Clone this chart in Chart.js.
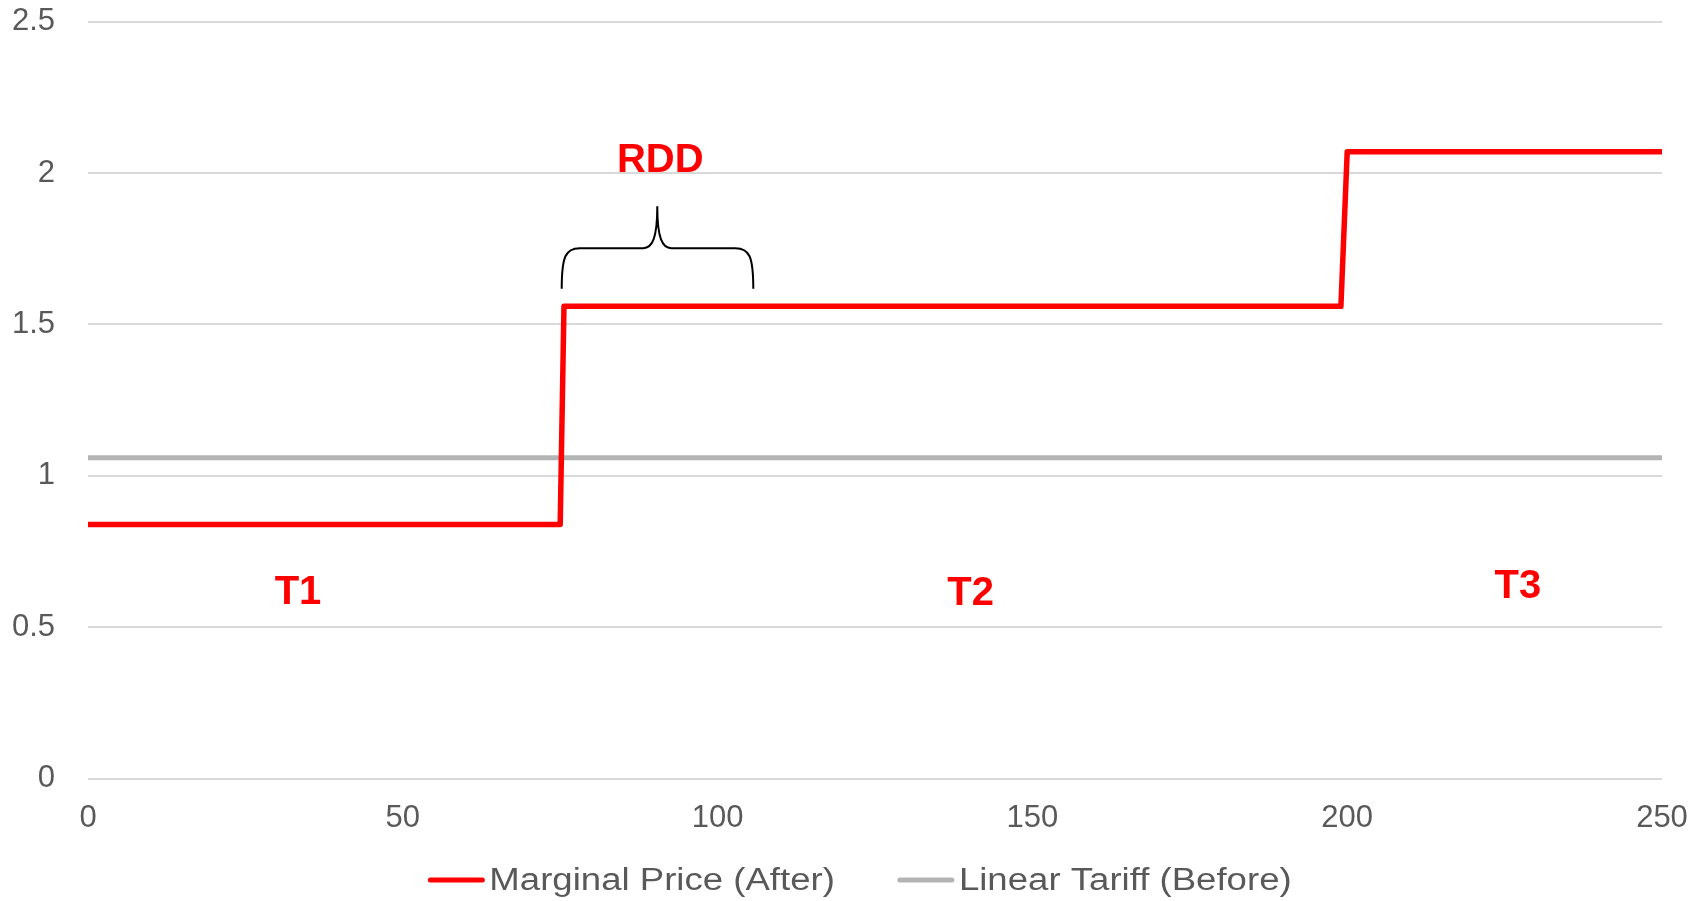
<!DOCTYPE html>
<html>
<head>
<meta charset="utf-8">
<script src="https://cdn.jsdelivr.net/npm/chart.js@4.4.1/dist/chart.umd.min.js"></script>
<style>
  html, body { margin: 0; padding: 0; background: #ffffff; }
  canvas { display: block; }
</style>
</head>
<body>
<canvas id="chart" width="1701" height="901"></canvas>
<script>
// Monthly usage (x) and price per unit (y)
const stepUsage = [0, 75, 75.6, 199, 200, 250];
const marginalPrice = [0.84, 0.84, 1.56, 1.56, 2.07, 2.07];
const flatUsage = [0, 250];
const linearTariff = [1.06, 1.06];
const xTicks = [0, 50, 100, 150, 200, 250];
const yTicks = [0, 0.5, 1, 1.5, 2, 2.5];
const seriesNames = ['Marginal Price (After)', 'Linear Tariff (Before)'];
const tierNames = ['T1', 'T2', 'T3'];
const bracketLabel = 'RDD';

// Annotation anchors in data units (text anchors are baselines)
const tierAnchors = [[33.35, 0.577], [140.2, 0.575], [227.1, 0.596]];
const bracketLabelAnchor = [90.9, 2.003];
const bracket = { x0: 75.24, x1: 105.67, xTip: 90.42, yEnd: 1.618, yBar: 1.752, yTip: 1.89 };

const FONT = '"Liberation Sans", Arial, Helvetica, sans-serif';
const RED = '#ff0000';
const GREY = '#b4b4b4';
const TEXT = '#595959';
const CLEAR = 'rgba(0,0,0,0)';

const toPoints = (xs, ys) => xs.map((x, i) => ({ x, y: ys[i] }));

const annotations = {
  id: 'annotations',
  afterDatasetsDraw(chart) {
    const { ctx, scales: { x, y } } = chart;
    ctx.save();

    // curly bracket over the start of the second tier
    const xl = x.getPixelForValue(bracket.x0);
    const xr = x.getPixelForValue(bracket.x1);
    const xm = x.getPixelForValue(bracket.xTip);
    const yb = y.getPixelForValue(bracket.yEnd);
    const yf = y.getPixelForValue(bracket.yBar);
    const yt = y.getPixelForValue(bracket.yTip);
    ctx.strokeStyle = '#000000';
    ctx.lineWidth = 2;
    ctx.lineCap = 'butt';
    ctx.beginPath();
    ctx.moveTo(xl, yb);
    ctx.bezierCurveTo(xl, yf + 8, xl + 4, yf, xl + 18, yf);
    ctx.lineTo(xm - 14, yf);
    ctx.bezierCurveTo(xm - 5, yf, xm, yf - 10, xm, yt);
    ctx.bezierCurveTo(xm, yf - 10, xm + 5, yf, xm + 14, yf);
    ctx.lineTo(xr - 18, yf);
    ctx.bezierCurveTo(xr - 4, yf, xr, yf + 8, xr, yb);
    ctx.stroke();

    // tier and bracket labels
    ctx.fillStyle = RED;
    ctx.font = 'bold 40px ' + FONT;
    ctx.textAlign = 'center';
    ctx.textBaseline = 'alphabetic';
    tierNames.forEach((name, i) => {
      const [vx, vy] = tierAnchors[i];
      ctx.fillText(name, x.getPixelForValue(vx), y.getPixelForValue(vy));
    });
    ctx.fillText(bracketLabel, x.getPixelForValue(bracketLabelAnchor[0]), y.getPixelForValue(bracketLabelAnchor[1]));
    ctx.restore();
  },
  afterDraw(chart) {
    // legend row under the x axis, text slightly widened
    const { ctx } = chart;
    const stretch = 1.18;
    const lineLen = 56, textGap = 5, itemGap = 63, centerX = 860, rowY = 880;
    ctx.save();
    ctx.font = '31px ' + FONT;
    const items = chart.data.datasets.map(ds => ({
      label: ds.label,
      color: ds.borderColor,
      w: ctx.measureText(ds.label).width * stretch
    }));
    const total = items.reduce((s, it) => s + lineLen + textGap + it.w, 0) + itemGap * (items.length - 1);
    let cx = centerX - total / 2;
    items.forEach(it => {
      ctx.strokeStyle = it.color;
      ctx.lineWidth = 5;
      ctx.lineCap = 'round';
      ctx.beginPath();
      ctx.moveTo(cx + 2, rowY);
      ctx.lineTo(cx + lineLen - 2, rowY);
      ctx.stroke();
      cx += lineLen + textGap;
      ctx.save();
      ctx.translate(cx, rowY);
      ctx.scale(stretch, 1);
      ctx.fillStyle = TEXT;
      ctx.textAlign = 'left';
      ctx.textBaseline = 'middle';
      ctx.fillText(it.label, 0, 1);
      ctx.restore();
      cx += it.w + itemGap;
    });
    ctx.restore();
  }
};

new Chart(document.getElementById('chart'), {
  type: 'line',
  data: {
    datasets: [
      {
        label: seriesNames[0],
        data: toPoints(stepUsage, marginalPrice),
        borderColor: RED,
        backgroundColor: RED,
        borderWidth: 5.5,
        borderJoinStyle: 'round',
        pointRadius: 0,
        tension: 0,
        order: 0
      },
      {
        label: seriesNames[1],
        data: toPoints(flatUsage, linearTariff),
        borderColor: GREY,
        backgroundColor: GREY,
        borderWidth: 5,
        pointRadius: 0,
        tension: 0,
        order: 1
      }
    ]
  },
  options: {
    responsive: false,
    animation: false,
    devicePixelRatio: 1,
    layout: { padding: { top: 21, right: 39, bottom: 62, left: 0 } },
    plugins: {
      legend: { display: false },
      tooltip: { enabled: false }
    },
    scales: {
      x: {
        type: 'linear',
        min: 0,
        max: 250,
        afterBuildTicks: s => { s.ticks = xTicks.map(v => ({ value: v })); },
        grid: { display: true, drawOnChartArea: false, drawTicks: true, tickLength: 19, color: CLEAR, tickColor: CLEAR },
        border: { display: false },
        ticks: {
          color: TEXT,
          font: { family: FONT, size: 31 },
          padding: 2,
          maxRotation: 0,
          callback: v => String(v)
        }
      },
      y: {
        min: 0,
        max: 2.5,
        afterBuildTicks: s => { s.ticks = yTicks.map(v => ({ value: v })); },
        afterFit: s => { s.width = 88; },
        grid: { color: '#d9d9d9', lineWidth: 2, drawTicks: true, tickLength: 30, tickColor: CLEAR },
        border: { display: false },
        ticks: {
          color: TEXT,
          font: { family: FONT, size: 31 },
          padding: 3,
          callback: v => String(v)
        }
      }
    }
  },
  plugins: [annotations]
});
</script>
</body>
</html>
